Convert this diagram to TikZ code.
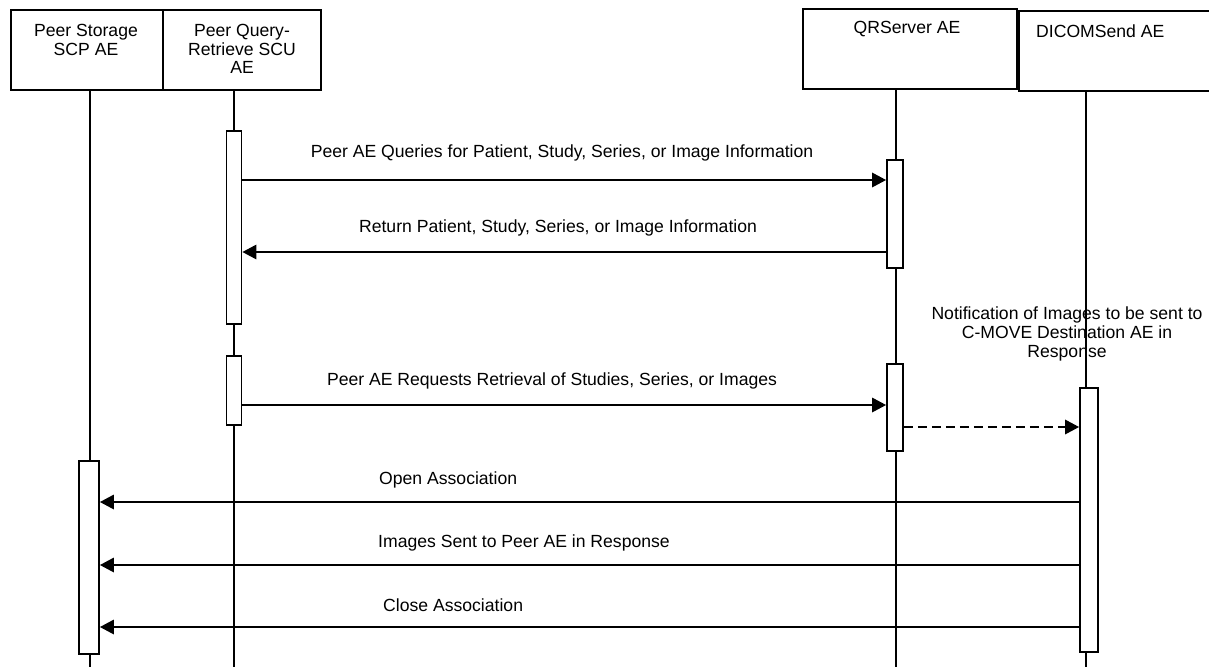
\documentclass[tikz,border=0pt]{standalone}
\usepackage{fontspec}
\setmainfont{Liberation Sans}
\usetikzlibrary{arrows.meta}
\begin{document}
\begin{tikzpicture}[x=1pt,y=-1pt,
  every node/.style={font=\fontsize{17.6}{18.8}\selectfont, inner sep=0pt},
  hdr/.style={draw, line width=1.9pt, anchor=north west, minimum height=80pt},
  life/.style={line width=1.4pt},
  act/.style={draw, fill=white, line width=1.6pt, anchor=north},
  msg/.style={line width=2.8pt, -{Triangle[length=14pt,width=14pt]}},
  dmsg/.style={msg, dash pattern=on 9pt off 5pt},
  lbl/.style={align=center}]
\useasboundingbox (0,0) rectangle (1209,667);
\clip (0,0) rectangle (1209,667);

% header boxes
\node[hdr, minimum width=152pt] (h1) at (10,9) {};
\node[hdr, minimum width=158pt] (h2) at (162,9) {};
\node[hdr, minimum width=214pt] (h3) at (802,8) {};
\node[hdr, minimum width=210pt] (h4) at (1018,10) {};

\node[lbl] (t1) at (86,40) {Peer Storage\\SCP AE};
\node[lbl] (t2) at (242,49) {Peer Query-\\Retrieve SCU\\AE};
\node (t3) at (907,29) {QRServer AE};
\node[anchor=west] (t4) at (1036,31) {DICOMSend AE};

% lifelines
\coordinate (l1) at (90,667);
\coordinate (l2) at (234,667);
\coordinate (l3) at (896,667);
\coordinate (l4) at (1086,667);
\draw[life] (h1.south -| l1) -- (l1);
\draw[life] (h2.south -| l2) -- (l2);
\draw[life] (h3.south -| l3) -- (l3);
\draw[life] (h4.south -| l4) -- (l4);

% activation boxes
\node[act, minimum width=20pt, minimum height=193pt] (a1) at (89,460) {};
\node[act, minimum width=15pt, minimum height=193pt] (a2) at (234,130) {};
\node[act, minimum width=15pt, minimum height=69pt] (a3) at (234,355) {};
\node[act, minimum width=16pt, minimum height=108pt] (a4) at (895,159) {};
\node[act, minimum width=16pt, minimum height=87pt] (a5) at (895,363) {};
\node[act, minimum width=18pt, minimum height=264pt] (a6) at (1089,387) {};

% message rows
\coordinate (y1) at (0,180);
\coordinate (y2) at (0,252);
\coordinate (y3) at (0,405);
\coordinate (y4) at (0,427);
\coordinate (y5) at (0,502);
\coordinate (y6) at (0,565);
\coordinate (y7) at (0,627);

\draw[msg] (a2.east |- y1) -- (a4.west |- y1);
\draw[msg] (a4.west |- y2) -- (a2.east |- y2);
\draw[msg] (a3.east |- y3) -- (a5.west |- y3);
\draw[dmsg] (a5.east |- y4) -- (a6.west |- y4);
\draw[msg] (a6.west |- y5) -- (a1.east |- y5);
\draw[msg] (a6.west |- y6) -- (a1.east |- y6);
\draw[msg] (a6.west |- y7) -- (a1.east |- y7);

% labels
\node (m1) at (562,153) {Peer AE Queries for Patient, Study, Series, or Image Information};
\node (m2) at (558,228) {Return Patient, Study, Series, or Image Information};
\node (m3) at (552,381) {Peer AE Requests Retrieval of Studies, Series, or Images};
\node[lbl] (m4) at (1067,334) {Notification of Images to be sent to\\C-MOVE Destination AE in\\Response};
\node[anchor=west] (m5) at (379,480) {Open Association};
\node[anchor=west] (m6) at (378,543) {Images Sent to Peer AE in Response};
\node[anchor=west] (m7) at (383,605) {Close Association};
\end{tikzpicture}
\end{document}
